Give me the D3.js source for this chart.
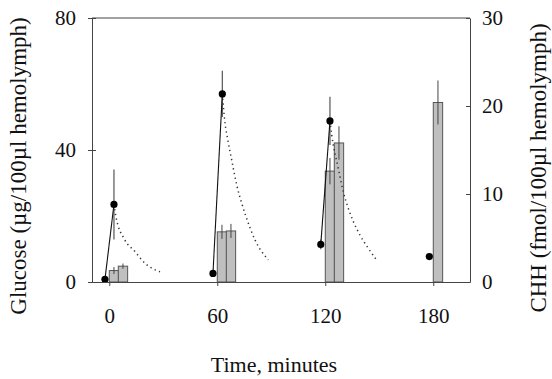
<!DOCTYPE html>
<meta charset="utf-8">
<head>
<title>Glucose and CHH</title>
<style>
  body { margin: 0; background: #fff; }
  text { font-family: "Liberation Serif", "Times New Roman", serif; fill: #111; }
  .axis path, .axis line { stroke: #444; }
  .axis text { font-size: 21px; font-family: "Liberation Serif", serif; fill: #111; }
</style>
</head>
<body>
<svg width="552" height="379"></svg>
<script src="https://d3js.org/d3.v7.min.js"></script>
<script>
// glucose points (left axis)
var gTime = [-2.4, 2.6, 57.6, 62.8, 117.5, 122.6, 177.8];
var gVal  = [0.8, 23.5, 2.6, 57, 11.4, 48.8, 7.7];
var gErr  = [0, 10.6, 0, 7, 1.5, 7.3, 1];
var gPairs = [[0, 1], [2, 3], [4, 5]];

// dotted decay curves (minutes, glucose)
var decay0   = [[2.6, 23.5], [3.7, 19.8], [8.7, 12.7], [14.3, 9.2], [19.8, 5.7], [28.2, 3.1]];
var decay60  = [[62.8, 57], [64.3, 48.1], [65.6, 43.8], [68, 37], [70.8, 29.4], [73.6, 23.8], [76.3, 19.3], [81, 12.7], [88.3, 6.7]];
var decay120 = [[122.6, 48.8], [123.6, 44.5], [127.2, 34.5], [130, 27.4], [132.8, 22.3], [135.6, 18.3], [139.3, 14.2], [143.9, 10.2], [148.5, 6.7]];

// CHH bars (right axis)
var bStart = [0, 5, 60, 65, 120, 125, 180];
var bVal   = [1.3, 1.8, 5.7, 5.8, 12.6, 15.8, 20.4];
var bErr   = [0.4, 0.3, 0.8, 0.8, 1.5, 1.9, 2.5];
var bWidth = 5.2;

var xTicks = [0, 60, 120, 180];
var gTicks = [0, 40, 80];
var cTicks = [0, 10, 20, 30];

var svg = d3.select("svg"),
    margin = {top: 18, right: 82, bottom: 97, left: 92},
    width = +svg.attr("width") - margin.left - margin.right,
    height = +svg.attr("height") - margin.top - margin.bottom,
    g = svg.append("g").attr("transform", "translate(" + margin.left + "," + margin.top + ")");

var x = d3.scaleLinear().domain([-9.6, 200.4]).range([0, width]);
var yG = d3.scaleLinear().domain([0, 80]).range([height, 0]);
var yC = d3.scaleLinear().domain([0, 30]).range([height, 0]);

// bars
var bars = bStart.map(function(d, i) { return {t: d, v: bVal[i], e: bErr[i]}; });
g.selectAll(".bar").data(bars).enter().append("rect")
    .attr("x", function(d) { return x(d.t); })
    .attr("y", function(d) { return yC(d.v); })
    .attr("width", function(d) { return x(d.t + bWidth) - x(d.t); })
    .attr("height", function(d) { return height - yC(d.v); })
    .attr("fill", "#bfbfbf")
    .attr("stroke", "#555")
    .attr("stroke-width", 1);
g.selectAll(".berr").data(bars).enter().append("line")
    .attr("x1", function(d) { return x(d.t + bWidth / 2); })
    .attr("x2", function(d) { return x(d.t + bWidth / 2); })
    .attr("y1", function(d) { return yC(d.v + d.e); })
    .attr("y2", function(d) { return yC(d.v - d.e); })
    .attr("stroke", "#444")
    .attr("stroke-width", 1);

// dotted decay curves
var curve = d3.line()
    .x(function(d) { return x(d[0]); })
    .y(function(d) { return yG(d[1]); })
    .curve(d3.curveMonotoneX);
[decay0, decay60, decay120].forEach(function(c) {
  g.append("path")
      .datum(c)
      .attr("fill", "none")
      .attr("stroke", "#333")
      .attr("stroke-width", 1.5)
      .attr("stroke-dasharray", "1.3,3.4")
      .attr("d", curve);
});

// glucose error bars
var pts = gTime.map(function(d, i) { return {t: d, v: gVal[i], e: gErr[i]}; });
g.selectAll(".gerr").data(pts).enter().append("line")
    .attr("x1", function(d) { return x(d.t); })
    .attr("x2", function(d) { return x(d.t); })
    .attr("y1", function(d) { return yG(d.v + d.e); })
    .attr("y2", function(d) { return yG(d.v - d.e); })
    .attr("stroke", "#555")
    .attr("stroke-width", 1.2);

// connecting lines
gPairs.forEach(function(p) {
  g.append("line")
      .attr("x1", x(gTime[p[0]])).attr("y1", yG(gVal[p[0]]))
      .attr("x2", x(gTime[p[1]])).attr("y2", yG(gVal[p[1]]))
      .attr("stroke", "#111")
      .attr("stroke-width", 1.1);
});

g.selectAll(".pt").data(pts).enter().append("circle")
    .attr("cx", function(d) { return x(d.t); })
    .attr("cy", function(d) { return yG(d.v); })
    .attr("r", 3.6)
    .attr("fill", "#000");

// frame
g.append("line").attr("x1", 0).attr("x2", width).attr("y1", 0).attr("y2", 0)
    .attr("stroke", "#444");

// axes
g.append("g").attr("class", "axis")
    .attr("transform", "translate(0," + height + ")")
    .call(d3.axisBottom(x).tickValues(xTicks).tickSize(4).tickSizeOuter(0).tickPadding(22));

var la = g.append("g").attr("class", "axis")
    .call(d3.axisLeft(yG).tickValues(gTicks).tickSize(4).tickSizeOuter(0).tickPadding(12));
la.selectAll(".tick line").attr("x1", 4);

g.append("g").attr("class", "axis")
    .attr("transform", "translate(" + width + ",0)")
    .call(d3.axisRight(yC).tickValues(cTicks).tickSize(-4).tickSizeOuter(0).tickPadding(12));

// titles
svg.append("text")
    .attr("transform", "translate(26,166) rotate(-90)")
    .attr("text-anchor", "middle")
    .style("font-size", "23px")
    .text("Glucose (\u00b5g/100\u00b5l hemolymph)");

svg.append("text")
    .attr("transform", "translate(546,168) rotate(-90)")
    .attr("text-anchor", "middle")
    .style("font-size", "23px")
    .text("CHH (fmol/100\u00b5l hemolymph)");

svg.append("text")
    .attr("x", 274)
    .attr("y", 372)
    .attr("text-anchor", "middle")
    .style("font-size", "22px")
    .text("Time, minutes");
</script>
</body>
